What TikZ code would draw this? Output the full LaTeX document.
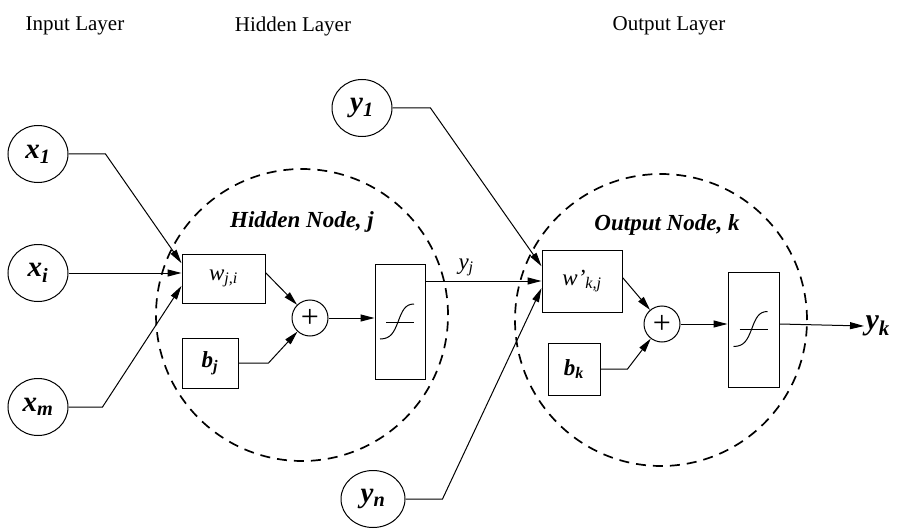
\documentclass[tikz,border=0pt]{standalone}
\usepackage{fontspec}
\setmainfont{Liberation Serif}
\usetikzlibrary{arrows.meta, positioning, calc, shapes.geometric}

% variable con subindice, negrita cursiva
\newcommand{\vb}[2]{\textbf{\textit{#1}}\textsubscript{\textbf{\textit{#2}}}}
% simbolo sigmoide dentro de una caja
\newcommand{\sigmoide}[1]{%
  \begin{scope}[shift={(#1.center)}]
    \draw (-14,0) -- (14,0);
    \draw (-20,17) .. controls (-9,17) and (-6,10) .. (-2,0)
                   .. controls (2,-11) and (5,-18) .. (14,-18);
  \end{scope}}

\begin{document}
\begin{tikzpicture}[
  x=1pt, y=-1pt, line width=1pt,
  font=\fontsize{21}{23}\selectfont,
  entrada/.style={ellipse, draw=black, minimum width=60pt,
                  minimum height=57pt, inner sep=0pt,
                  font=\fontsize{29}{31}\selectfont},
  caja/.style={rectangle, draw=black, inner sep=0pt,
               font=\fontsize{23}{25}\selectfont},
  suma/.style={circle, draw=black, minimum size=36pt, inner sep=0pt,
               font=\fontsize{32}{34}\selectfont},
  zona/.style={circle, draw=black, line width=1.7pt,
               dash pattern=on 10pt off 7pt, minimum size=292pt, inner sep=0pt},
  fl/.style={-{Triangle[length=14pt, width=7pt]}},
  etiqueta/.style={font=\fontsize{23}{25}\selectfont\bfseries\itshape},
  capa/.style={font=\fontsize{21}{23}\selectfont}
]
\useasboundingbox (0,0) rectangle (905,532);

% ---- Capas ----
\node[capa] (tin) at (75,26) {Input Layer};
\node[capa] (thid) at (293,26) {Hidden Layer};
\node[capa] (tout) at (669,26) {Output Layer};

% ---- Zonas punteadas ----
\node[zona] (zonaj) at (302,315) {};
\node[zona] (zonak) at (661,320) {};
\node[etiqueta] (lblj) at (302,222) {Hidden Node, j};
\node[etiqueta] (lblk) at (667,225) {Output Node, k};

% ---- Entradas ----
\node[entrada] (x1) at (38,154) {\vb{x}{1}};
\node[entrada] (xi) at (38,273) {\vb{x}{i}};
\node[entrada] (xm) at (38,407) {\vb{x}{m}};

% ---- Nodo oculto ----
\node[caja, minimum width=83pt, minimum height=49pt] (wji) at (223.5,278.5)
  {\textit{w}\textsubscript{\textit{j,i}}};
\node[caja, minimum width=56pt, minimum height=50pt] (bj) at (210,363)
  {\vb{b}{j}};
\node[suma] (sumj) at (310,318) {+};
\node[caja, minimum width=50pt, minimum height=115pt] (sigj) at (400,322) {};
\sigmoide{sigj}

\draw[fl] (x1.east) -- ++(37,0) -- (wji.160);
\draw[fl] (xi.east) -- (xi.east -| wji.west);
\draw[fl] (xm.east) -- ++(34,0) -- (wji.190);
\draw[fl] (wji.8) -- (sumj);
\draw[fl] (bj.east) -- ++(30,0) -- (sumj);
\draw[fl] (sumj) -- (sumj -| sigj.west);

% ---- Nodo de salida ----
\node[entrada] (y1) at (362,108) {\vb{y}{1}};
\node[entrada, minimum width=64pt] (yn) at (373,499) {\vb{y}{n}};
\node[caja, minimum width=80pt, minimum height=62pt] (wkj) at (582,281)
  {\textit{w'}\textsubscript{\textit{k,j}}};
\node[caja, minimum width=52pt, minimum height=52pt] (bk) at (574,369)
  {\vb{b}{k}};
\node[suma] (sumk) at (662,324) {+};
\node[caja, minimum width=51pt, minimum height=115pt] (sigk) at (753.5,329.5) {};
\sigmoide{sigk}
\node[anchor=west, inner sep=1pt, font=\fontsize{30}{32}\selectfont]
  (yk) at (864,326) {\vb{y}{k}};

\draw[fl] (sigj.east |- wkj.west) -- node[pos=0.35, above=1pt,
  font=\fontsize{23}{25}\selectfont] {\textit{y}\textsubscript{\textit{j}}} (wkj.west);
\draw[fl] (y1.east) -- ++(38,0) -- (wkj.160);
\draw[fl] (yn.east) -- ++(37,0) -- (wkj.190);
\draw[fl] (wkj.5) -- (sumk);
\draw[fl] (bk.east) -- ++(27,0) -- (sumk);
\draw[fl] (sumk) -- (sumk -| sigk.west);
\draw[fl] (sumk -| sigk.east) -- (yk.west);
\end{tikzpicture}
\end{document}
